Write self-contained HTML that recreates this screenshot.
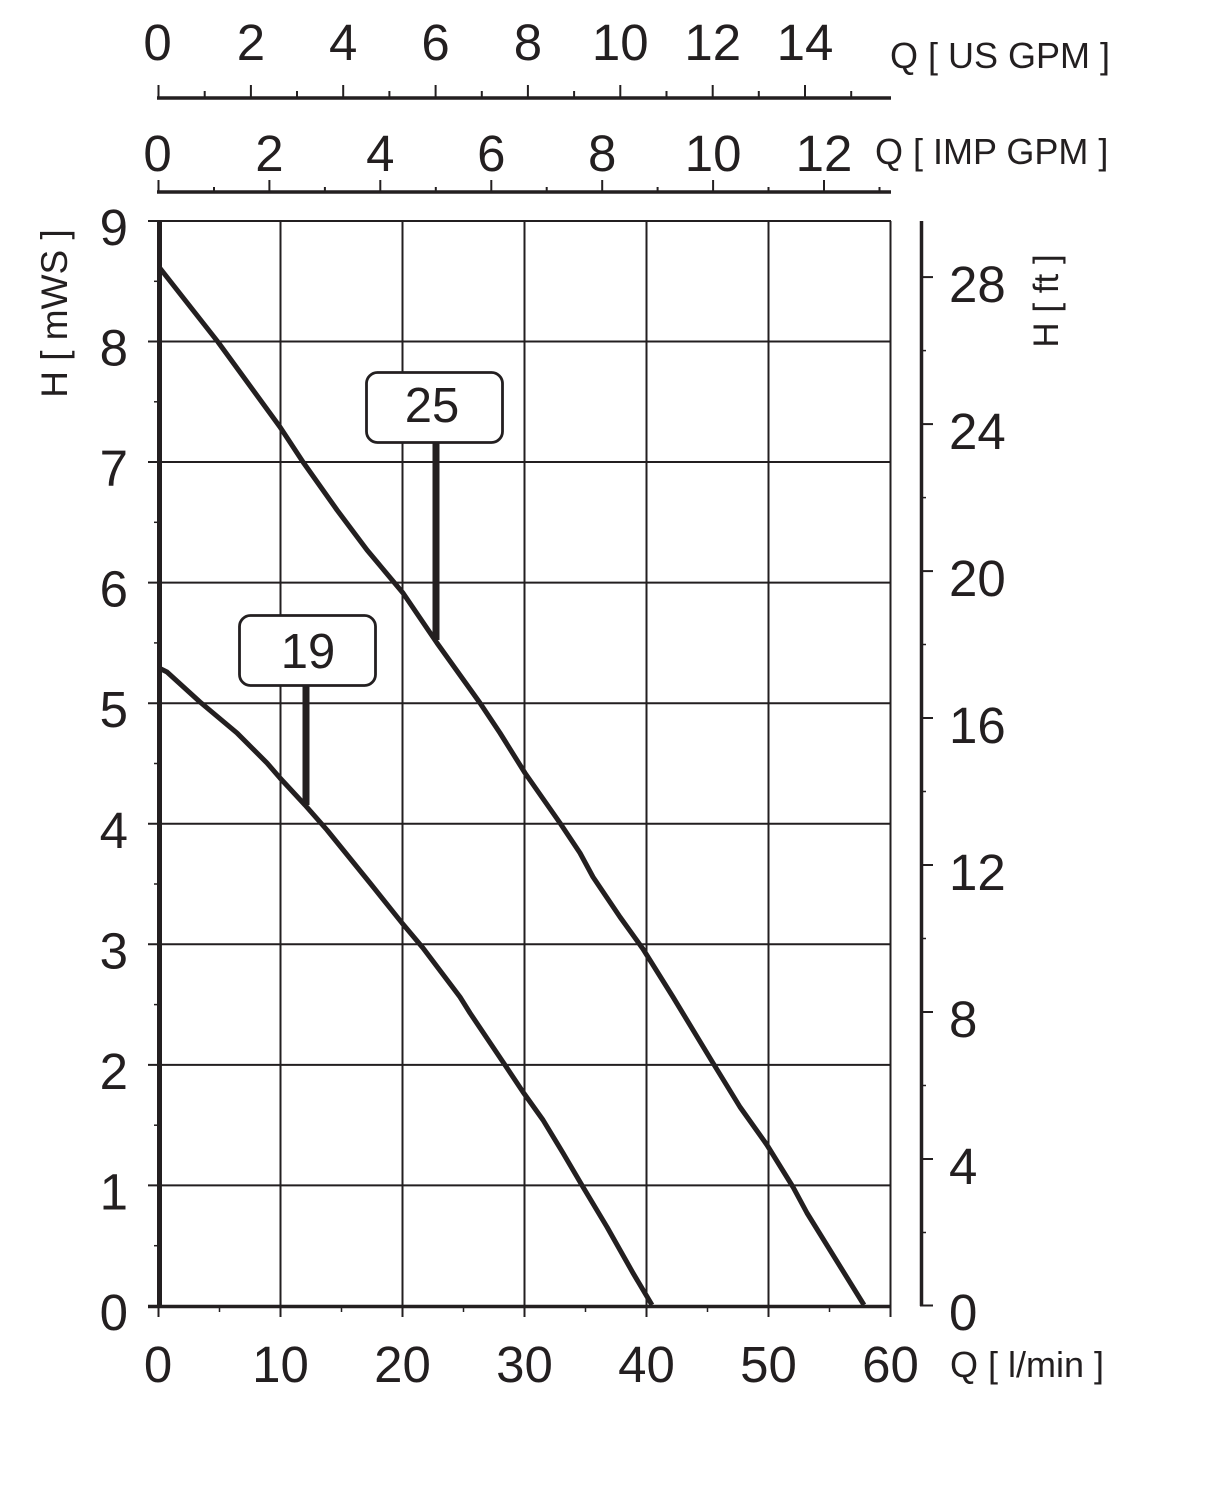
<!DOCTYPE html>
<html>
<head>
<meta charset="utf-8">
<style>
html,body{margin:0;padding:0;background:#fff;}
svg{display:block;}
text{font-family:"Liberation Sans",Arial,sans-serif;fill:#231f20;}
</style>
</head>
<body>
<svg width="1217" height="1500" viewBox="0 0 1217 1500" xmlns="http://www.w3.org/2000/svg">
<rect x="0" y="0" width="1217" height="1500" fill="#fff"/>
<g stroke="#231f20" fill="none" stroke-linecap="butt">
  <!-- US GPM axis -->
  <line x1="157" y1="98" x2="891" y2="98" stroke-width="3.5"/>
  <g stroke-width="2">
    <line x1="158.5" y1="85" x2="158.5" y2="98"/>
    <line x1="250.9" y1="85" x2="250.9" y2="98"/>
    <line x1="343.2" y1="85" x2="343.2" y2="98"/>
    <line x1="435.6" y1="85" x2="435.6" y2="98"/>
    <line x1="527.9" y1="85" x2="527.9" y2="98"/>
    <line x1="620.3" y1="85" x2="620.3" y2="98"/>
    <line x1="712.7" y1="85" x2="712.7" y2="98"/>
    <line x1="805.0" y1="85" x2="805.0" y2="98"/>
    <line x1="204.7" y1="91" x2="204.7" y2="98"/>
    <line x1="297.0" y1="91" x2="297.0" y2="98"/>
    <line x1="389.4" y1="91" x2="389.4" y2="98"/>
    <line x1="481.8" y1="91" x2="481.8" y2="98"/>
    <line x1="574.1" y1="91" x2="574.1" y2="98"/>
    <line x1="666.5" y1="91" x2="666.5" y2="98"/>
    <line x1="758.8" y1="91" x2="758.8" y2="98"/>
    <line x1="851.2" y1="91" x2="851.2" y2="98"/>
  </g>
  <!-- IMP GPM axis -->
  <line x1="157" y1="192" x2="891" y2="192" stroke-width="3.5"/>
  <g stroke-width="2">
    <line x1="158.5" y1="180" x2="158.5" y2="192"/>
    <line x1="269.4" y1="180" x2="269.4" y2="192"/>
    <line x1="380.3" y1="180" x2="380.3" y2="192"/>
    <line x1="491.3" y1="180" x2="491.3" y2="192"/>
    <line x1="602.2" y1="180" x2="602.2" y2="192"/>
    <line x1="713.1" y1="180" x2="713.1" y2="192"/>
    <line x1="824.0" y1="180" x2="824.0" y2="192"/>
    <line x1="214.0" y1="187" x2="214.0" y2="192"/>
    <line x1="324.9" y1="187" x2="324.9" y2="192"/>
    <line x1="435.8" y1="187" x2="435.8" y2="192"/>
    <line x1="546.7" y1="187" x2="546.7" y2="192"/>
    <line x1="657.6" y1="187" x2="657.6" y2="192"/>
    <line x1="768.5" y1="187" x2="768.5" y2="192"/>
    <line x1="879.5" y1="187" x2="879.5" y2="192"/>
  </g>

  <!-- grid -->
  <g stroke-width="2">
    <line x1="148" y1="221" x2="891" y2="221"/>
    <line x1="148" y1="341.5" x2="890.5" y2="341.5"/>
    <line x1="148" y1="462" x2="890.5" y2="462"/>
    <line x1="148" y1="582.6" x2="890.5" y2="582.6"/>
    <line x1="148" y1="703.2" x2="890.5" y2="703.2"/>
    <line x1="148" y1="823.8" x2="890.5" y2="823.8"/>
    <line x1="148" y1="944.3" x2="890.5" y2="944.3"/>
    <line x1="148" y1="1064.9" x2="890.5" y2="1064.9"/>
    <line x1="148" y1="1185.4" x2="890.5" y2="1185.4"/>
    <line x1="280.5" y1="221" x2="280.5" y2="1317"/>
    <line x1="402.5" y1="221" x2="402.5" y2="1317"/>
    <line x1="524.5" y1="221" x2="524.5" y2="1317"/>
    <line x1="646.5" y1="221" x2="646.5" y2="1317"/>
    <line x1="768.5" y1="221" x2="768.5" y2="1317"/>
    <line x1="890.5" y1="221" x2="890.5" y2="1317"/>
    <line x1="158.5" y1="1306" x2="158.5" y2="1317"/>
  </g>
  <!-- bottom minor ticks -->
  <g stroke-width="1.5">
    <line x1="219.5" y1="1306" x2="219.5" y2="1312"/>
    <line x1="341.5" y1="1306" x2="341.5" y2="1312"/>
    <line x1="463.5" y1="1306" x2="463.5" y2="1312"/>
    <line x1="585.5" y1="1306" x2="585.5" y2="1312"/>
    <line x1="707.5" y1="1306" x2="707.5" y2="1312"/>
    <line x1="829.5" y1="1306" x2="829.5" y2="1312"/>
  </g>
  <!-- left minor ticks -->
  <g stroke-width="1.5">
    <line x1="154" y1="281.3" x2="158" y2="281.3"/>
    <line x1="154" y1="401.8" x2="158" y2="401.8"/>
    <line x1="154" y1="522.3" x2="158" y2="522.3"/>
    <line x1="154" y1="642.9" x2="158" y2="642.9"/>
    <line x1="154" y1="763.5" x2="158" y2="763.5"/>
    <line x1="154" y1="884" x2="158" y2="884"/>
    <line x1="154" y1="1004.6" x2="158" y2="1004.6"/>
    <line x1="154" y1="1125.2" x2="158" y2="1125.2"/>
    <line x1="154" y1="1245.7" x2="158" y2="1245.7"/>
  </g>
  <!-- axes -->
  <line x1="148" y1="1306.5" x2="891" y2="1306.5" stroke-width="3.5"/>
  <line x1="159.5" y1="221" x2="159.5" y2="1308" stroke-width="5"/>

  <!-- right ft axis -->
  <line x1="921.5" y1="221" x2="921.5" y2="1306" stroke-width="3.5"/>
  <g stroke-width="2">
    <line x1="920" y1="1305.5" x2="933" y2="1305.5"/>
    <line x1="920" y1="1159" x2="933" y2="1159"/>
    <line x1="920" y1="1012" x2="933" y2="1012"/>
    <line x1="920" y1="865" x2="933" y2="865"/>
    <line x1="920" y1="718" x2="933" y2="718"/>
    <line x1="920" y1="571.1" x2="933" y2="571.1"/>
    <line x1="920" y1="424.1" x2="933" y2="424.1"/>
    <line x1="920" y1="277.1" x2="933" y2="277.1"/>
  </g>
  <g stroke-width="1.5">
    <line x1="921" y1="1232.5" x2="926" y2="1232.5"/>
    <line x1="921" y1="1085.5" x2="926" y2="1085.5"/>
    <line x1="921" y1="938.5" x2="926" y2="938.5"/>
    <line x1="921" y1="791.5" x2="926" y2="791.5"/>
    <line x1="921" y1="644.5" x2="926" y2="644.5"/>
    <line x1="921" y1="497.6" x2="926" y2="497.6"/>
    <line x1="921" y1="350.6" x2="926" y2="350.6"/>
  </g>

  <!-- curves -->
  <polyline stroke-width="5" stroke-linejoin="round" points="159,267 218,342 280,427 303,462 337,510 367,550 403,593 437,643 480,703 500,733 525,773 560,823 580,853 593,877 620,917 643,949 673,997 713,1063 740,1107 767,1145 793,1187 807,1213 864,1305"/>
  <polyline stroke-width="5" stroke-linejoin="round" points="159,668 167,672 200,702 237,733 267,763 280,778 305,805 327,830 370,883 402,923 423,948 460,997 470,1013 505,1065 523,1092 543,1120 563,1153 583,1187 607,1227 633,1273 652,1305"/>

  <!-- stems -->
  <line x1="436" y1="443" x2="436" y2="640" stroke-width="7"/>
  <line x1="306" y1="686" x2="306" y2="805" stroke-width="7"/>
  <!-- boxes -->
  <rect x="366.5" y="372.5" width="136" height="70" rx="11" ry="11" fill="#fff" stroke-width="2.8"/>
  <rect x="239.5" y="615.5" width="136" height="70" rx="11" ry="11" fill="#fff" stroke-width="2.8"/>
</g>

<text x="432" y="422" font-size="49" text-anchor="middle">25</text>
<text x="308" y="668" font-size="49" text-anchor="middle">19</text>

<!-- US GPM labels -->
<g font-size="51" text-anchor="middle">
  <text x="157.5" y="60">0</text>
  <text x="250.9" y="60">2</text>
  <text x="343.2" y="60">4</text>
  <text x="435.6" y="60">6</text>
  <text x="527.9" y="60">8</text>
  <text x="620.3" y="60">10</text>
  <text x="712.7" y="60">12</text>
  <text x="805.0" y="60">14</text>
</g>
<text x="890" y="68" font-size="36">Q [ US GPM ]</text>

<!-- IMP GPM labels -->
<g font-size="51" text-anchor="middle">
  <text x="157.5" y="171">0</text>
  <text x="269.4" y="171">2</text>
  <text x="380.3" y="171">4</text>
  <text x="491.3" y="171">6</text>
  <text x="602.2" y="171">8</text>
  <text x="713.1" y="171">10</text>
  <text x="824.0" y="171">12</text>
</g>
<text x="875" y="164" font-size="36">Q [ IMP GPM ]</text>

<!-- left labels -->
<g font-size="51" text-anchor="end">
  <text x="128" y="245">9</text>
  <text x="128" y="365.5">8</text>
  <text x="128" y="486">7</text>
  <text x="128" y="606.6">6</text>
  <text x="128" y="727.2">5</text>
  <text x="128" y="847.8">4</text>
  <text x="128" y="968.3">3</text>
  <text x="128" y="1088.9">2</text>
  <text x="128" y="1209.4">1</text>
  <text x="128" y="1330">0</text>
</g>
<text transform="translate(67,313.5) rotate(-90)" font-size="37" text-anchor="middle">H [ mWS ]</text>

<!-- right labels -->
<g font-size="51" text-anchor="start">
  <text x="949" y="1330">0</text>
  <text x="949" y="1184">4</text>
  <text x="949" y="1037">8</text>
  <text x="949" y="890">12</text>
  <text x="949" y="743">16</text>
  <text x="949" y="596">20</text>
  <text x="949" y="449">24</text>
  <text x="949" y="302">28</text>
</g>
<text transform="translate(1058,301) rotate(-90)" font-size="35" text-anchor="middle">H [ ft ]</text>

<!-- bottom labels -->
<g font-size="51" text-anchor="middle">
  <text x="158" y="1382">0</text>
  <text x="280.5" y="1382">10</text>
  <text x="402.5" y="1382">20</text>
  <text x="524.5" y="1382">30</text>
  <text x="646.5" y="1382">40</text>
  <text x="768.5" y="1382">50</text>
  <text x="890.5" y="1382">60</text>
</g>
<text x="950" y="1377" font-size="36">Q [ l/min ]</text>
</svg>
</body>
</html>
